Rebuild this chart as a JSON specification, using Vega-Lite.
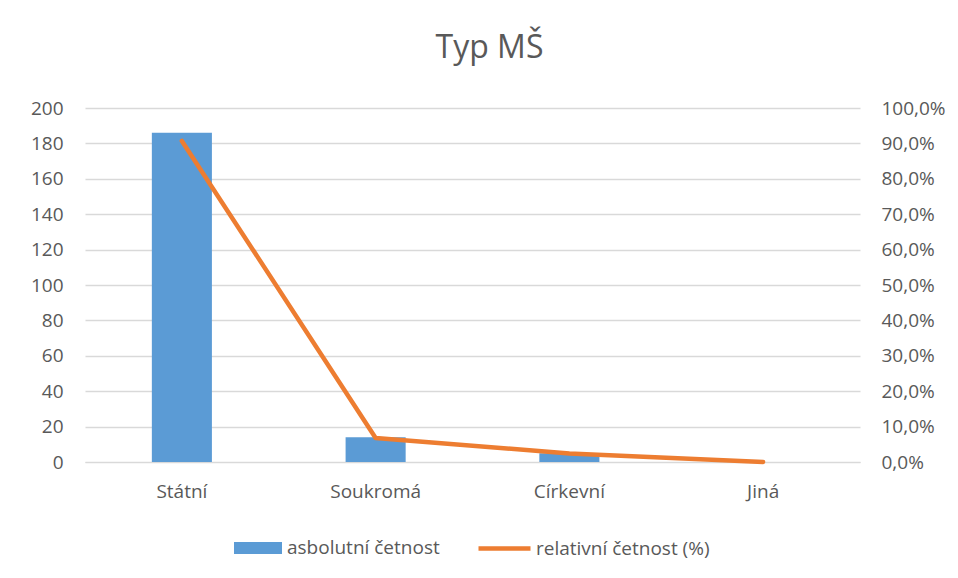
{
  "$schema": "https://vega.github.io/schema/vega-lite/v6.json",
  "width": 775,
  "height": 354,
  "autosize": {"type": "none"},
  "padding": {"left": 85, "top": 108, "right": 98, "bottom": 116},
  "background": "white",
  "title": {"text": "Typ MŠ", "fontSize": 32, "font": "Open Sans", "fontWeight": "normal", "color": "#595959", "anchor": "middle", "dx": 17, "offset": 34},
  "data": {"values": [
    {"typ": "Státní", "abs": 186, "rel": 0.907},
    {"typ": "Soukromá", "abs": 14, "rel": 0.068},
    {"typ": "Církevní", "abs": 5, "rel": 0.024},
    {"typ": "Jiná", "abs": 0, "rel": 0.0}
  ]},
  "encoding": {
    "x": {"field": "typ", "type": "nominal", "sort": null,
      "scale": {"paddingInner": 0.69, "paddingOuter": 0.345},
      "axis": {"title": null, "labelAngle": 0, "domain": true, "domainColor": "#D9D9D9", "ticks": false, "labelPadding": 20, "labelFontSize": 19, "labelColor": "#595959", "labelFont": "Open Sans"}}
  },
  "layer": [
    {
      "mark": {"type": "bar", "color": "#5B9BD5"},
      "encoding": {
        "y": {"field": "abs", "type": "quantitative", "scale": {"domain": [0, 200]},
          "axis": {"title": null, "values": [0,20,40,60,80,100,120,140,160,180,200], "domain": false, "ticks": false, "labelPadding": 22, "labelFontSize": 19, "labelColor": "#595959", "labelFont": "Open Sans", "gridColor": "#D9D9D9", "gridWidth": 1.5}},
        "fill": {"datum": "asbolutní četnost", "type": "nominal",
          "scale": {"range": ["#5B9BD5"]},
          "legend": {"title": null, "orient": "none", "legendX": 149, "legendY": 416, "symbolType": "M-1,-0.25L1,-0.25L1,0.25L-1,0.25Z", "symbolSize": 2304, "symbolStrokeWidth": 0, "labelFontSize": 19, "labelColor": "#595959", "labelFont": "Open Sans", "labelOffset": 5, "labelLimit": 0}}
      }
    },
    {
      "mark": {"type": "line", "strokeWidth": 4.5, "strokeCap": "round", "strokeJoin": "round"},
      "encoding": {
        "y": {"field": "rel", "type": "quantitative", "scale": {"domain": [0, 1]},
          "axis": {"title": null, "orient": "right", "format": ".1%", "values": [0,0.1,0.2,0.3,0.4,0.5,0.6,0.7,0.8,0.9,1.0], "grid": false, "domain": false, "ticks": false, "labelPadding": 21, "labelFontSize": 19, "labelColor": "#595959", "labelFont": "Open Sans"}},
        "stroke": {"datum": "relativní četnost (%)", "type": "nominal",
          "scale": {"range": ["#ED7D31"]},
          "legend": {"title": null, "orient": "none", "legendX": 391, "legendY": 412, "symbolType": "stroke", "symbolSize": 2704, "symbolStrokeWidth": 4.5, "labelFontSize": 19, "labelColor": "#595959", "labelFont": "Open Sans", "labelOffset": 3, "labelLimit": 0}}
      }
    }
  ],
  "resolve": {"scale": {"y": "independent", "fill": "independent", "stroke": "independent"}},
  "config": {
    "locale": {"number": {"decimal": ",", "thousands": " ", "grouping": [3], "currency": ["", " Kč"]}},
    "view": {"stroke": null}
  }
}
